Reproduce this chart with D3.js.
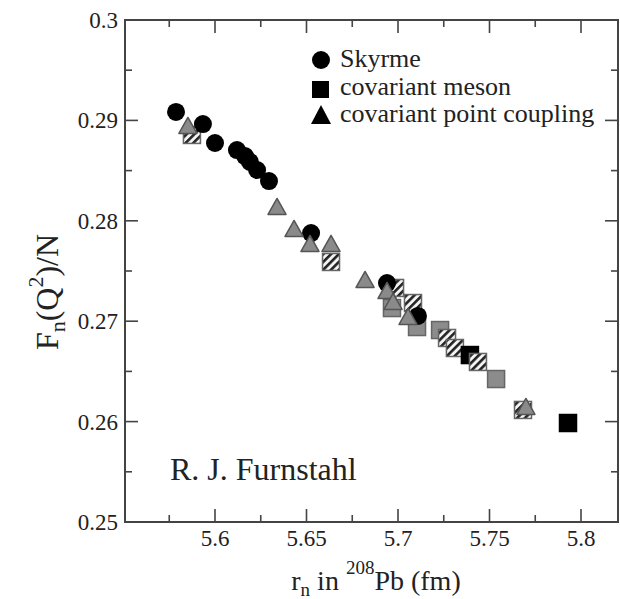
<!DOCTYPE html>
<html><head><meta charset="utf-8">
<script src="https://cdn.jsdelivr.net/npm/d3@7"></script>
<style>body{margin:0;background:#fff;} svg{display:block;} text{font-family:"Liberation Serif","DejaVu Serif",serif;fill:#222;}</style>
</head><body>
<svg id="c" width="620" height="599"></svg>
<script>
// ---- data ----
const skyrmeX = [5.5787,5.5934,5.6000,5.6120,5.6164,5.6191,5.6230,5.6295,5.6525,5.6940,5.7109];
const skyrmeY = [0.29084,0.28964,0.28775,0.28705,0.28645,0.28586,0.28506,0.28396,0.27878,0.27380,0.27052];
const mesonX = [5.5874,5.6634,5.6984,5.7082,5.6967,5.7104,5.7230,5.7268,5.7311,5.7393,5.7437,5.7536,5.7683,5.7929];
const mesonY = [0.28855,0.27590,0.27331,0.27181,0.27131,0.26942,0.26912,0.26833,0.26733,0.26663,0.26594,0.26424,0.26116,0.25986];
const mesonKind = ["hatch","hatch","hatch","hatch","gray","gray","gray","hatch","hatch","black","hatch","gray","hatch","black"];
const pcX = [5.5852,5.6339,5.6432,5.6519,5.6634,5.6820,5.6940,5.6973,5.7055,5.7699];
const pcY = [0.28934,0.28127,0.27908,0.27759,0.27759,0.27400,0.27291,0.27181,0.27032,0.26135];
const xMajor = [5.6,5.65,5.7,5.75,5.8];
const xMinor = [5.575,5.625,5.675,5.725,5.775];
const yMajor = [0.25,0.26,0.27,0.28,0.29,0.3];
const yMinor = [0.255,0.265,0.275,0.285,0.295];
const yLabels = ["0.25","0.26","0.27","0.28","0.29","0.3"];
const legendItems = ["Skyrme","covariant meson","covariant point coupling"];

// ---- layout ----
const L=125, R=618, T=20, B=522;
const x = d3.scaleLinear().domain([5.6,5.8]).range([215,581]);
const y = d3.scaleLinear().domain([0.25,0.3]).range([B,T]);
const svg = d3.select("#c");

const defs = svg.append("defs");
const pat = defs.append("pattern").attr("id","hatch").attr("patternUnits","userSpaceOnUse")
  .attr("width",5.5).attr("height",5.5).attr("patternTransform","rotate(45)");
pat.append("rect").attr("width",5.5).attr("height",5.5).attr("fill","#f4f4f4");
pat.append("rect").attr("width",2.6).attr("height",5.5).attr("fill","#222");

const frameCol="#444";
// ticks
const g = svg.append("g").attr("stroke",frameCol).attr("stroke-width",1.6);
const MJ=13, MN=7;
xMajor.forEach(v=>{ g.append("line").attr("x1",x(v)).attr("x2",x(v)).attr("y1",B).attr("y2",B-MJ);
  g.append("line").attr("x1",x(v)).attr("x2",x(v)).attr("y1",T).attr("y2",T+MJ);});
xMinor.forEach(v=>{ g.append("line").attr("x1",x(v)).attr("x2",x(v)).attr("y1",B).attr("y2",B-MN);
  g.append("line").attr("x1",x(v)).attr("x2",x(v)).attr("y1",T).attr("y2",T+MN);});
yMajor.forEach(v=>{ g.append("line").attr("y1",y(v)).attr("y2",y(v)).attr("x1",L).attr("x2",L+MJ);
  g.append("line").attr("y1",y(v)).attr("y2",y(v)).attr("x1",R).attr("x2",R-MJ);});
yMinor.forEach(v=>{ g.append("line").attr("y1",y(v)).attr("y2",y(v)).attr("x1",L).attr("x2",L+MN);
  g.append("line").attr("y1",y(v)).attr("y2",y(v)).attr("x1",R).attr("x2",R-MN);});
svg.append("rect").attr("x",L).attr("y",T).attr("width",R-L).attr("height",B-T)
  .attr("fill","none").attr("stroke",frameCol).attr("stroke-width",2);

// tick labels
xMajor.forEach(v=>svg.append("text").attr("x",x(v)).attr("y",546).attr("text-anchor","middle")
  .attr("font-size",23).text(String(v)));
yMajor.forEach((v,i)=>svg.append("text").attr("x",118).attr("y",y(v)+8).attr("text-anchor","end")
  .attr("font-size",23).text(yLabels[i]));

// markers
const sqS=17, cirR=9, triW=18, triH=16;
function square(sel,cx,cy,kind){
  const fill = kind==="black"?"#000":kind==="gray"?"#8c8c8c":"url(#hatch)";
  const stroke = kind==="black"?"#000":"#666";
  sel.append("rect").attr("x",cx-sqS/2).attr("y",cy-sqS/2).attr("width",sqS).attr("height",sqS)
    .attr("fill",fill).attr("stroke",stroke).attr("stroke-width",1.5);
}
function tri(sel,cx,cy,fill,stroke){
  sel.append("path").attr("d",`M${cx},${cy-triH*0.6}L${cx+triW/2},${cy+triH*0.4}L${cx-triW/2},${cy+triH*0.4}Z`)
    .attr("fill",fill).attr("stroke",stroke).attr("stroke-width",1.5).attr("stroke-linejoin","round");
}
const pts = svg.append("g");
mesonX.forEach((v,i)=>square(pts,x(v),y(mesonY[i]),mesonKind[i]));
skyrmeX.forEach((v,i)=>pts.append("circle").attr("cx",x(v)).attr("cy",y(skyrmeY[i])).attr("r",cirR).attr("fill","#000"));
pcX.forEach((v,i)=>tri(pts,x(v),y(pcY[i]),"#8a8a8a","#555"));

// legend
const lg = svg.append("g");
lg.append("circle").attr("cx",321).attr("cy",60).attr("r",9).attr("fill","#000");
lg.append("rect").attr("x",312).attr("y",81).attr("width",17).attr("height",17).attr("fill","#000");
lg.append("path").attr("d","M321,105L331,124L311,124Z").attr("fill","#000");
[67,95,122].forEach((yy,i)=>lg.append("text").attr("x",340).attr("y",yy).attr("font-size",26).text(legendItems[i]));

// annotation
svg.append("text").attr("x",170).attr("y",480).attr("font-size",32).text("R. J. Furnstahl");

// axis titles
const xt = svg.append("text").attr("x",376).attr("y",590).attr("text-anchor","middle").attr("font-size",28);
xt.append("tspan").text("r");
xt.append("tspan").attr("font-size",19).attr("dy",6).text("n");
xt.append("tspan").attr("dy",-6).text(" in ");
xt.append("tspan").attr("font-size",19).attr("dy",-16).text("208");
xt.append("tspan").attr("dy",16).text("Pb (fm)");

const yt = svg.append("text").attr("transform","translate(58,292) rotate(-90)").attr("text-anchor","middle").attr("font-size",32);
yt.append("tspan").text("F");
yt.append("tspan").attr("font-size",22).attr("dy",7).text("n");
yt.append("tspan").attr("dy",-7).text("(Q");
yt.append("tspan").attr("font-size",22).attr("dy",-15).text("2");
yt.append("tspan").attr("dy",15).text(")/N");
</script>
</body></html>
